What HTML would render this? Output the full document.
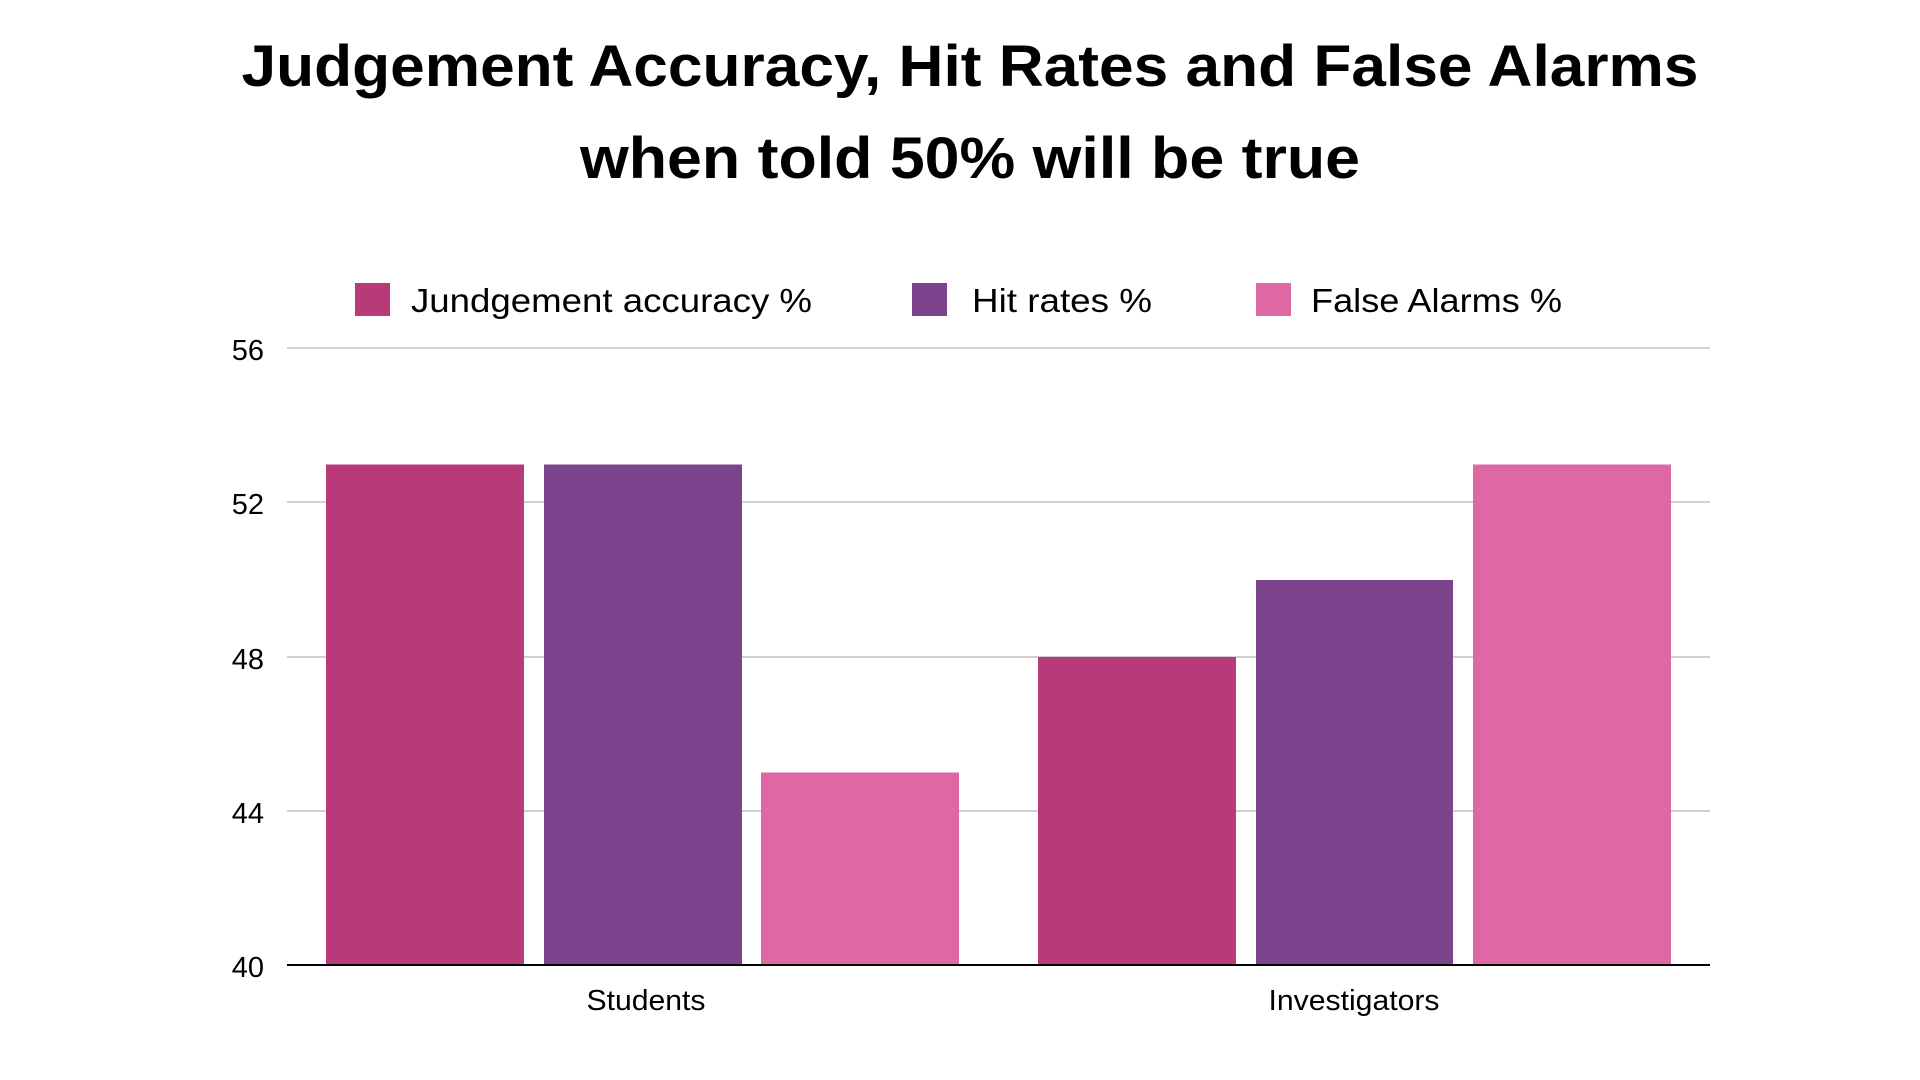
<!DOCTYPE html>
<html><head><meta charset="utf-8"><style>
html,body{margin:0;padding:0;background:#fff;}
svg{display:block;font-family:"Liberation Sans",Arial,sans-serif;}
</style></head><body>
<svg width="1920" height="1080" viewBox="0 0 1920 1080">
<text x="970" y="86" font-size="58" font-weight="bold" text-anchor="middle" textLength="1457" lengthAdjust="spacingAndGlyphs">Judgement Accuracy, Hit Rates and False Alarms</text>
<text x="970" y="178" font-size="58" font-weight="bold" text-anchor="middle" textLength="780" lengthAdjust="spacingAndGlyphs">when told 50% will be true</text>
<g font-size="33">
<rect x="355" y="283" width="35" height="33" fill="#b93a78"/>
<text x="411" y="312" textLength="401" lengthAdjust="spacingAndGlyphs">Jundgement accuracy %</text>
<rect x="912" y="283" width="35" height="33" fill="#7c448c"/>
<text x="972" y="312" textLength="180" lengthAdjust="spacingAndGlyphs">Hit rates %</text>
<rect x="1256" y="283" width="35" height="33" fill="#de68a4"/>
<text x="1311" y="312" textLength="251" lengthAdjust="spacingAndGlyphs">False Alarms %</text>
</g>
<g stroke="#c0c0c0" stroke-width="1.5">
<line x1="287" y1="348" x2="1710" y2="348"/>
<line x1="287" y1="502" x2="1710" y2="502"/>
<line x1="287" y1="657" x2="1710" y2="657"/>
<line x1="287" y1="811" x2="1710" y2="811"/>
</g>
<g font-size="29" text-anchor="end">
<text x="264" y="360">56</text>
<text x="264" y="514">52</text>
<text x="264" y="669">48</text>
<text x="264" y="823">44</text>
<text x="264" y="977">40</text>
</g>
<rect x="326" y="464.5" width="198" height="500.5" fill="#b93a78"/>
<rect x="544" y="464.5" width="198" height="500.5" fill="#7c448c"/>
<rect x="761" y="772.5" width="198" height="192.5" fill="#de68a4"/>
<rect x="1038" y="657" width="198" height="308" fill="#b93a78"/>
<rect x="1256" y="580" width="197" height="385" fill="#7c448c"/>
<rect x="1473" y="464.5" width="198" height="500.5" fill="#de68a4"/>
<line x1="287" y1="965" x2="1710" y2="965" stroke="#000" stroke-width="2"/>
<g font-size="29" text-anchor="middle">
<text x="646" y="1010" textLength="119" lengthAdjust="spacingAndGlyphs">Students</text>
<text x="1354" y="1010" textLength="171" lengthAdjust="spacingAndGlyphs">Investigators</text>
</g>
</svg>
</body></html>
